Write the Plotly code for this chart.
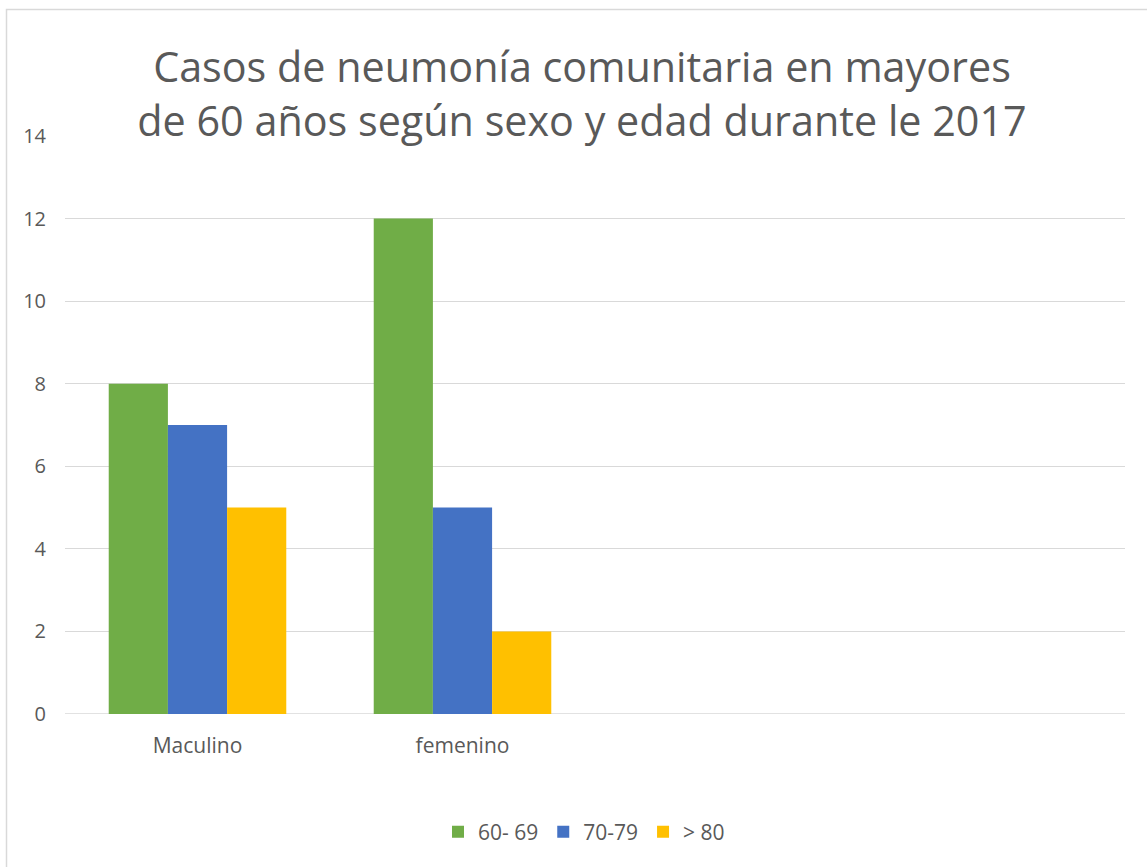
import plotly.graph_objects as go

categories = ["Maculino", "femenino"]
series_names = ["60- 69", "70-79", "> 80"]
values_60_69 = [8, 12]
values_70_79 = [7, 5]
values_80 = [5, 2]
colors = ["#70AD47", "#4472C4", "#FFC000"]
y_ticks = [0, 2, 4, 6, 8, 10, 12, 14]

FONT = "Open Sans, Lato, sans-serif"
TXT = "#595959"

fig = go.Figure()
for name, vals, col in zip(series_names, [values_60_69, values_70_79, values_80], colors):
    fig.add_trace(go.Bar(x=categories, y=vals, name=name, marker=dict(color=col, line=dict(width=0))))

W, H = 1147, 867
L, R, T, B = 65, 22, 136, 153
pw, ph = W - L - R, H - T - B

fig.update_layout(
    width=W, height=H,
    margin=dict(l=L, r=R, t=T, b=B),
    paper_bgcolor="white", plot_bgcolor="white",
    barmode="group", bargap=0.33, bargroupgap=0,
    font=dict(family=FONT, color=TXT),
    title=dict(
        text="Casos de neumonía comunitaria en mayores<br>de 60 años según sexo y edad durante le 2017",
        x=582 / W, xanchor="center", y=1 - 82 / H, yanchor="middle",
        font=dict(size=41.3, color=TXT, family=FONT),
    ),
    xaxis=dict(
        type="category", range=[-0.5, 3.5], showgrid=False, zeroline=False,
        showline=False, ticks="", tickfont=dict(size=21, color=TXT),
        ticklabelstandoff=17,
    ),
    yaxis=dict(
        range=[0, 14], tickvals=y_ticks, showgrid=True, gridcolor="#D9D9D9", gridwidth=1.3,
        zeroline=False, showline=False, ticks="", tickfont=dict(size=20, color=TXT),
        ticklabelstandoff=18,
    ),
    legend=dict(
        orientation="h", x=(584 - L) / pw, xanchor="center",
        y=(H - B - 832) / ph, yanchor="middle",
        font=dict(size=21, color=TXT), itemwidth=30, traceorder="normal",
    ),
    showlegend=True,
)

# baseline line at 0
fig.add_shape(type="line", xref="paper", yref="y", x0=0, x1=1, y0=0, y1=0,
              line=dict(color="#D9D9D9", width=1.5), layer="below")
# chart border (top and left visible)
fig.add_shape(type="rect", xref="paper", yref="paper",
              x0=(6.5 - L) / pw, x1=(W + 10 - L) / pw,
              y0=-(B + 10) / ph, y1=(H - B - 9.5) / ph,
              line=dict(color="#D9D9D9", width=1.5), fillcolor="rgba(0,0,0,0)", layer="below")

fig.write_html("out.html", config={"displayModeBar": False},
               post_script="document.body.style.margin='0';document.body.style.overflow='hidden';")
